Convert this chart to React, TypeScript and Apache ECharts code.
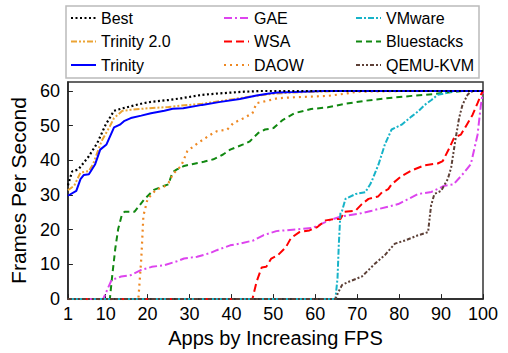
import React, { useEffect, useRef } from "react";
import * as echarts from "echarts";

const xTicks = [1, 10, 20, 30, 40, 50, 60, 70, 80, 90, 100];
const yTicks = [0, 10, 20, 30, 40, 50, 60];

const best = [[1,32.8],[2,36.8],[3.5,37.4],[6,41.2],[8,45],[10,50.3],[12,54.3],[14,55],[19,56.5],[21,56.9],[25,57.4],[28,57.9],[33,58.9],[37,59.3],[43,59.8],[47,60],[100,60]];
const trinity2 = [[1,31.4],[2.5,32.7],[4,36.5],[6,36.9],[7,38.9],[9,45.5],[11,49.8],[12,52.2],[14,54.3],[16,54.6],[20,55],[25,55.4],[28,55.8],[33,56.3],[39,57.4],[45,58.5],[50,59.2],[55,59.6],[60,59.8],[65,60],[100,60]];
const trinity = [[1,29.8],[3,31.2],[4,34.6],[4.8,35.8],[6,36],[7.5,38.9],[8.7,43.1],[10.2,44.6],[12,49.5],[13.4,50.3],[14.5,51.4],[16,52.2],[18.5,52.9],[20.8,53.6],[24,54.3],[26,54.9],[28.5,55],[33,56],[37,56.8],[42,57.7],[46,58.7],[49,59.3],[51,59.6],[55,59.7],[62,60],[100,60]];
const gae = [[1,0],[9.4,0],[11.4,5.5],[13.7,6.5],[16,6.9],[18.5,8.4],[21,9.3],[24,9.8],[27,10.9],[28.7,11.7],[31.8,12.2],[35,13.3],[36.5,14.1],[39.7,15.5],[42,16],[45.2,16.9],[47.6,18.4],[50.7,19.6],[55.4,20.1],[59.3,20.5],[63.3,22.7],[66.4,23.9],[70.4,24.6],[73.5,25.5],[79.8,27.4],[84.5,30.3],[87.7,30.9],[90.8,32.7],[93,33.1],[95.5,36.5],[97.1,38.9],[98.7,47.4],[99.5,56],[100,60]];
const wsa = [[1,0],[45,0],[46,5],[47.2,9.1],[48.3,9.3],[49.5,11.7],[51.1,12.7],[53,15],[54.2,17.6],[56.2,19.3],[58.6,19.8],[60.5,20.8],[62.5,22.7],[64.8,23.1],[66,23.1],[67,25.2],[69.6,25.5],[71.1,27.4],[72.7,28.9],[75,29.6],[75.9,30.8],[77.4,31.7],[78.2,33.1],[80.6,35.5],[83,37.1],[86.1,38.6],[89.2,39.1],[90.4,39.8],[92,43.6],[93.1,46.5],[94.7,47.4],[95.9,49.8],[97.5,53.1],[98.7,56.5],[99.5,58.9],[100,60]];
const daow = [[1,0],[17.8,0],[18.5,11.7],[19,24],[20,28.9],[22,31.5],[24,32.5],[25,33.5],[26,36],[28,38.4],[29.5,42.7],[32,45],[35,47.4],[36.5,48.4],[39,48.9],[40.5,50.8],[43,52.2],[45,53.6],[46,56.5],[47.5,56.9],[51,57.9],[55,58.2],[63,58.6],[67,59.2],[70,59.8],[80,60],[100,60]];
const vmware = [[1,0],[64.8,0],[65.3,6],[65.6,15.5],[66,25],[66.4,25.5],[67.2,28.9],[69.6,30.3],[71.9,30.8],[73.1,33.1],[73.5,34.1],[75.1,38.9],[76.6,44.6],[78.2,48.9],[80.6,50.3],[83,52.7],[84.5,54.1],[86.1,56],[87.7,57.4],[89.2,58.9],[90.8,59.3],[93,60],[100,60]];
const bluestacks = [[1,0],[11,0],[11.5,6],[12.3,14.6],[13,20.3],[13.8,24],[14.5,25.2],[16.9,25.2],[19.3,28.9],[21.5,31.5],[24,32.7],[25,33.1],[25.9,36.5],[27,37.4],[28.7,38.4],[30.6,38.9],[33.4,39.6],[35.7,40.3],[38,41.7],[39.7,43.1],[42.8,44.6],[44.4,45.5],[46.4,47.9],[48,48.9],[50,49.3],[52.3,51.7],[55,53.6],[59,54.8],[63,55.3],[67,56.3],[72,57.2],[77,57.9],[83,58.6],[88,59.1],[91,59.5],[95,60],[100,60]];
const qemu = [[1,0],[64.8,0],[65.5,2],[66.4,4.1],[68,5],[71.1,6.5],[74.3,10.3],[76.6,12.7],[79,16],[81.4,16.9],[84.5,18.4],[86.9,19.3],[87.6,26.9],[88.4,30.3],[90,31.2],[91.6,34.6],[92.4,37.9],[93.5,46.5],[94.3,52.2],[95.1,56],[96.3,58.9],[97.1,59.8],[98,60],[100,60]];

const FONT = "'Liberation Sans', Arial, sans-serif";

export default function App() {
  const ref = useRef<HTMLDivElement>(null);
  useEffect(() => {
    if (!ref.current) return;
    const chart = echarts.init(ref.current, null, { renderer: "svg" });
    const mk = (name: string, data: number[][], color: string, type: any, width = 2, z = 2) => ({
      name,
      type: "line",
      data,
      symbol: "none",
      z,
      lineStyle: { color, width, type },
      itemStyle: { color },
    });
    const legendBase = {
      orient: "vertical",
      top: 9,
      padding: 0,
      itemWidth: 25,
      itemHeight: 14,
      itemGap: 5.5,
      itemStyle: { opacity: 0 },
      textStyle: { fontSize: 16, fontFamily: FONT, color: "#000", lineHeight: 18 },
    };
    chart.setOption({
      animation: false,
      backgroundColor: "#fff",
      textStyle: { fontFamily: FONT },
      graphic: [
        {
          type: "rect",
          shape: { x: 66, y: 6, width: 413, height: 72 },
          style: { fill: "none", stroke: "#bbbbbb", lineWidth: 1.5 },
          silent: true,
        },
      ],
      legend: [
        { ...legendBase, left: 70, data: ["Best", "Trinity 2.0", "Trinity"] },
        { ...legendBase, left: 223, data: ["GAE", "WSA", "DAOW"] },
        { ...legendBase, left: 355, data: ["VMware", "Bluestacks", "QEMU-KVM"] },
      ],
      grid: {
        left: 62.6,
        right: 25,
        top: 82,
        bottom: 52.5,
        show: true,
        borderColor: "#333",
        borderWidth: 1.5,
      },
      xAxis: {
        type: "value",
        min: 1,
        max: 100,
        name: "Apps by Increasing FPS",
        nameLocation: "middle",
        nameGap: 24,
        nameTextStyle: { fontSize: 20, color: "#000", fontFamily: FONT },
        axisLine: { lineStyle: { color: "#222", width: 1.5 } },
        axisTick: { inside: true, length: 5, customValues: xTicks, lineStyle: { color: "#222" } },
        axisLabel: { customValues: xTicks, fontSize: 18, color: "#000", margin: 6, fontFamily: FONT },
        splitLine: { show: false },
      },
      yAxis: {
        type: "value",
        min: 0,
        max: 62.6,
        name: "Frames Per Second",
        nameLocation: "middle",
        nameGap: 32,
        nameTextStyle: { fontSize: 21, color: "#000", fontFamily: FONT },
        axisLine: { lineStyle: { color: "#222", width: 1.5 } },
        axisTick: { inside: true, length: 5, customValues: yTicks, lineStyle: { color: "#222" } },
        axisLabel: { customValues: yTicks, fontSize: 18, color: "#000", margin: 8, fontFamily: FONT },
        splitLine: { show: false },
      },
      series: [
        mk("Bluestacks", bluestacks, "#118811", [6, 4], 2),
        mk("DAOW", daow, "#ee8822", [2, 4], 2.2),
        mk("GAE", gae, "#dd44ee", [8, 3, 2, 3], 2),
        mk("WSA", wsa, "#ff0000", [8, 4], 2),
        mk("VMware", vmware, "#17b3c8", [6, 2, 2, 2], 2),
        mk("QEMU-KVM", qemu, "#5d4037", [4, 2, 2, 2, 2, 2], 2),
        mk("Trinity 2.0", trinity2, "#eba434", [6, 2, 2, 2, 2, 2], 2, 3),
        mk("Trinity", trinity, "#0000ff", "solid", 2, 4),
        mk("Best", best, "#000000", [2, 2.5], 2.2, 5),
      ],
    });
    return () => chart.dispose();
  }, []);
  return (
    <div
      ref={ref}
      style={{ position: "fixed", left: 0, top: 0, width: 508, height: 353 }}
    />
  );
}
